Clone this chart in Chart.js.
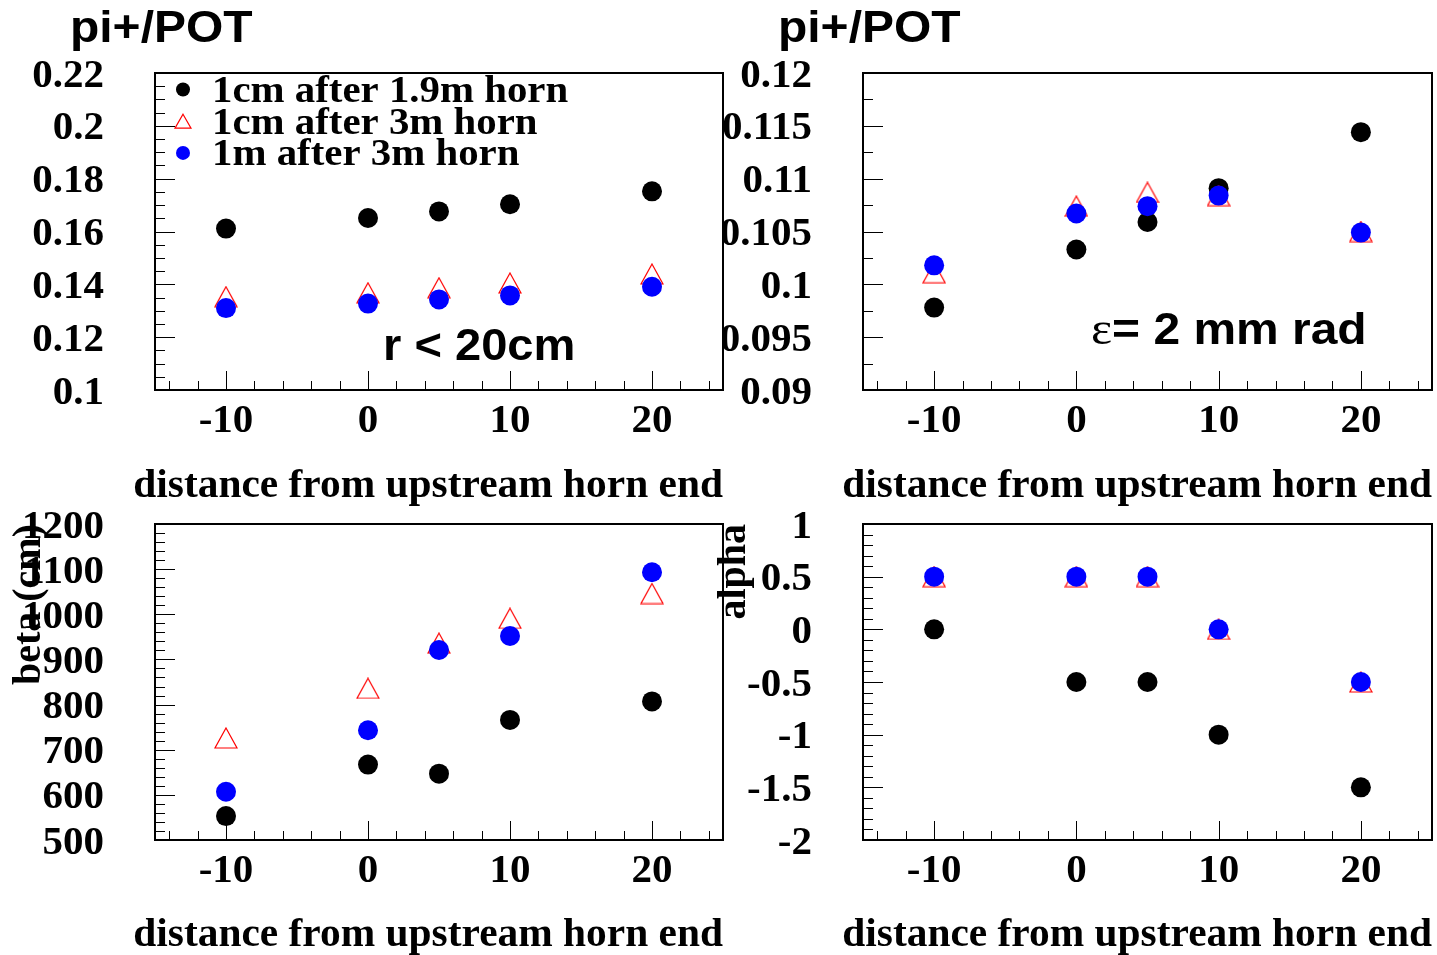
<!DOCTYPE html>
<html lang="en">
<head>
<meta charset="UTF-8" />
<title>pi+/POT, beta and alpha vs distance from upstream horn end</title>
<script src="https://cdn.jsdelivr.net/npm/chart.js"></script>
<style>
    body {
        margin: 0;
        background: #fff;
    }
    #page {
        position: relative;
        width: 1437px;
        height: 955px;
        overflow: hidden;
        background: #fff;
    }
    canvas {
        position: absolute;
    }
</style>
</head>
<body>
<div id="page">
    <canvas id="c1" width="728" height="512" style="left:0px;top:0px"></canvas>
    <canvas id="c2" width="715" height="512" style="left:722px;top:0px"></canvas>
    <canvas id="c3" width="728" height="481" style="left:0px;top:478px"></canvas>
    <canvas id="c4" width="723" height="481" style="left:714px;top:478px"></canvas>
</div>

<script>
    // x positions (distance from upstream horn end)
    const distance = [-10, 0, 5, 10, 20];
    const seriesNames = ['1cm after 1.9m horn', '1cm after 3m horn', '1m after 3m horn'];
    const xTitle = 'distance from upstream horn end';

    // pi+/POT, r < 20cm
    const yieldR20Short = [0.1611, 0.1651, 0.1676, 0.1703, 0.1752];
    const yieldR20Long = [0.1353, 0.1368, 0.1387, 0.1405, 0.1439];
    const yieldR20Long1m = [0.1310, 0.1327, 0.1343, 0.1358, 0.1391];

    // pi+/POT, emittance 2 mm rad
    const yieldEpsShort = [0.0978, 0.1033, 0.1059, 0.1091, 0.1144];
    const yieldEpsLong = [0.1011, 0.1074, 0.1087, 0.1084, 0.1050];
    const yieldEpsLong1m = [0.1018, 0.1067, 0.1074, 0.1084, 0.1049];

    // beta (cm)
    const betaShort = [553, 667, 647, 766, 807];
    const betaLong = [726, 836, 936, 991, 1046];
    const betaLong1m = [607, 743, 921, 952, 1093];

    // alpha
    const alphaShort = [0, -0.5, -0.5, -1, -1.5];
    const alphaLong = [0.5, 0.5, 0.5, 0, -0.5];
    const alphaLong1m = [0.5, 0.5, 0.5, 0, -0.5];

    // tick labels
    const xTickLabels = ['-10', '0', '10', '20'];
    const yTickLabels1 = ['0.1', '0.12', '0.14', '0.16', '0.18', '0.2', '0.22'];
    const yTickLabels2 = ['0.09', '0.095', '0.1', '0.105', '0.11', '0.115', '0.12'];
    const yTickLabels3 = ['500', '600', '700', '800', '900', '1000', '1100', '1200'];
    const yTickLabels4 = ['-2', '-1.5', '-1', '-0.5', '0', '0.5', '1'];

    const serif = '"Liberation Serif", "Times New Roman", serif';
    const sans = '"Liberation Sans", Arial, Helvetica, sans-serif';

    // ROOT style open triangle (centred on its bounding box)
    function triangleMarker(w, h, color) {
        const c = document.createElement('canvas');
        c.width = w + 2;
        c.height = h + 2;
        const g = c.getContext('2d');
        g.strokeStyle = color;
        g.lineWidth = 1.2;
        g.beginPath();
        g.moveTo(c.width / 2, 1);
        g.lineTo(c.width - 1, c.height - 1);
        g.lineTo(1, c.height - 1);
        g.closePath();
        g.stroke();
        return c;
    }
    const redTriangle = triangleMarker(22, 20, '#ff0000');

    // frame and inside ticks like a ROOT pad
    const rootAxes = {
        id: 'rootAxes',
        beforeDatasetsDraw(chart, args, opts) {
            const { ctx, chartArea: a, scales: { x, y } } = chart;
            ctx.save();
            ctx.strokeStyle = '#000';
            ctx.lineWidth = 1;
            ctx.beginPath();
            const xMajor = x.ticks.map(t => t.value);
            for (let k = Math.ceil(x.min / opts.xMinor - 1e-9); k * opts.xMinor <= x.max + 1e-9; k++) {
                const v = k * opts.xMinor;
                const major = xMajor.some(m => Math.abs(m - v) < 1e-9);
                const px = Math.round(x.getPixelForValue(v)) + 0.5;
                ctx.moveTo(px, a.bottom);
                ctx.lineTo(px, a.bottom - (major ? 19 : 9));
            }
            const yMajor = y.ticks.map(t => t.value);
            for (let k = Math.ceil(y.min / opts.yMinor - 1e-6); k * opts.yMinor <= y.max * (1 + 1e-9) + 1e-9; k++) {
                const v = k * opts.yMinor;
                const major = yMajor.some(m => Math.abs(m - v) < opts.yMinor * 1e-3);
                const py = Math.round(y.getPixelForValue(v)) + 0.5;
                ctx.moveTo(a.left, py);
                ctx.lineTo(a.left + (major ? 20 : 10), py);
            }
            ctx.stroke();
            ctx.lineWidth = 2;
            ctx.strokeRect(a.left, a.top, a.right - a.left, a.bottom - a.top);
            ctx.restore();
        }
    };

    // free text (pad titles, labels inside the frame); sx widens the glyphs a bit
    const padTexts = {
        id: 'padTexts',
        afterDraw(chart, args, opts) {
            const ctx = chart.ctx;
            ctx.save();
            ctx.fillStyle = '#000';
            ctx.textBaseline = 'alphabetic';
            ctx.textAlign = 'left';
            (opts.items || []).forEach(item => {
                let x = item.x;
                const sx = item.sx || 1;
                item.parts.forEach(p => {
                    ctx.font = p.font;
                    ctx.save();
                    ctx.translate(x, item.y);
                    ctx.scale(sx, 1);
                    ctx.fillText(p.text, 0, 0);
                    ctx.restore();
                    x += ctx.measureText(p.text).width * sx;
                });
            });
            // x axis title, right aligned to the frame like ROOT
            if (opts.xTitle) {
                const t = opts.xTitle;
                ctx.font = t.font;
                ctx.textAlign = 'right';
                ctx.save();
                ctx.translate(chart.chartArea.right, t.y);
                ctx.scale(t.sx, 1);
                ctx.fillText(t.text, 0, 0);
                ctx.restore();
            }
            ctx.restore();
        }
    };

    // ROOT style legend without a box
    const rootLegend = {
        id: 'rootLegend',
        afterDraw(chart, args, opts) {
            if (!opts.show) return;
            const ctx = chart.ctx;
            ctx.save();
            chart.data.datasets.forEach((ds, i) => {
                const cy = opts.y + i * opts.step;
                if (ds.pointStyle === 'circle') {
                    ctx.fillStyle = ds.backgroundColor;
                    ctx.beginPath();
                    ctx.arc(opts.x, cy, 7, 0, Math.PI * 2);
                    ctx.fill();
                } else {
                    ctx.strokeStyle = '#ff0000';
                    ctx.lineWidth = 1.2;
                    ctx.beginPath();
                    ctx.moveTo(opts.x, cy - 7);
                    ctx.lineTo(opts.x + 8, cy + 7);
                    ctx.lineTo(opts.x - 8, cy + 7);
                    ctx.closePath();
                    ctx.stroke();
                }
                ctx.fillStyle = '#000';
                ctx.font = 'bold 38px ' + serif;
                ctx.textBaseline = 'alphabetic';
                ctx.save();
                ctx.translate(opts.textX, cy + 12.5);
                ctx.scale(1.075, 1);
                ctx.fillText(ds.label, 0, 0);
                ctx.restore();
            });
            ctx.restore();
        }
    };

    function points(ys) {
        return distance.map((d, i) => ({ x: d, y: ys[i] }));
    }

    function makeDatasets(short, long, long1m) {
        return [
            { label: seriesNames[0], data: points(short), pointStyle: 'circle', pointRadius: 10,
              backgroundColor: '#000000', borderColor: '#000000', borderWidth: 0, order: 3 },
            { label: seriesNames[1], data: points(long), pointStyle: redTriangle, pointRadius: 11,
              backgroundColor: '#ff0000', borderColor: '#ff0000', order: 2 },
            { label: seriesNames[2], data: points(long1m), pointStyle: 'circle', pointRadius: 10,
              backgroundColor: '#0000ff', borderColor: '#0000ff', borderWidth: 0, order: 1 }
        ];
    }

    function makePad(id, cfg) {
        const tickFont = { family: serif, weight: 'bold', size: 41, lineHeight: 1 };
        const yTitleFont = { family: serif, weight: 'bold', size: 40, lineHeight: 1 };
        new Chart(document.getElementById(id), {
            type: 'scatter',
            data: { datasets: makeDatasets(cfg.short, cfg.long, cfg.long1m) },
            options: {
                responsive: false,
                animation: false,
                devicePixelRatio: 1,
                layout: { padding: cfg.padding, autoPadding: false },
                plugins: {
                    legend: { display: false },
                    tooltip: { enabled: false },
                    rootAxes: { xMinor: 2, yMinor: cfg.yMinor },
                    padTexts: {
                        items: cfg.texts,
                        xTitle: { text: xTitle, y: cfg.xTitleY, sx: 1.01, font: 'bold 41px ' + serif }
                    },
                    rootLegend: { show: !!cfg.legend, x: 183, y: 89.5, step: 31.7, textX: 212 }
                },
                scales: {
                    x: {
                        type: 'linear',
                        min: -15,
                        max: 25,
                        grid: { display: false, drawTicks: false, tickLength: 0 },
                        border: { display: false },
                        afterBuildTicks: s => { s.ticks = xTickLabels.map(l => ({ value: parseFloat(l) })); },
                        afterFit: s => {
                            s.height = cfg.xHeight;
                            s.paddingLeft = 0;
                            s.paddingRight = 0;
                        },
                        ticks: {
                            autoSkip: false,
                            maxRotation: 0,
                            padding: 10.5,
                            color: '#000',
                            font: tickFont,
                            callback: (v, i) => xTickLabels[i]
                        }
                    },
                    y: {
                        type: 'linear',
                        min: parseFloat(cfg.yLabels[0]),
                        max: parseFloat(cfg.yLabels[cfg.yLabels.length - 1]),
                        grid: { display: false, drawTicks: false, tickLength: 0 },
                        border: { display: false },
                        afterBuildTicks: s => { s.ticks = cfg.yLabels.map(l => ({ value: parseFloat(l) })); },
                        afterFit: s => {
                            s.width = cfg.yWidth;
                            s.paddingTop = 0;
                            s.paddingBottom = 0;
                        },
                        ticks: {
                            autoSkip: false,
                            padding: 51,
                            labelOffset: 3,
                            color: '#000',
                            font: tickFont,
                            callback: (v, i) => cfg.yLabels[i]
                        },
                        title: {
                            display: !!cfg.yTitle,
                            text: cfg.yTitle || '',
                            align: 'end',
                            color: '#000',
                            font: yTitleFont,
                            padding: { top: cfg.yTitlePad || 0, bottom: 0 }
                        }
                    }
                }
            },
            plugins: [rootAxes, padTexts, rootLegend]
        });
    }

    const sansTitle = 'bold 44px ' + sans;

    makePad('c1', {
        short: yieldR20Short, long: yieldR20Long, long1m: yieldR20Long1m,
        yLabels: yTickLabels1, yMinor: 0.005,
        padding: { top: 73, left: 0, right: 5, bottom: 0 },
        yWidth: 155, xHeight: 122, xTitleY: 497,
        legend: true,
        texts: [
            { x: 70, y: 42, sx: 1.09, parts: [{ text: 'pi+/POT', font: sansTitle }] },
            { x: 383, y: 360, sx: 1.07, parts: [{ text: 'r < 20cm', font: sansTitle }] }
        ]
    });

    makePad('c2', {
        short: yieldEpsShort, long: yieldEpsLong, long1m: yieldEpsLong1m,
        yLabels: yTickLabels2, yMinor: 0.0025,
        padding: { top: 73, left: 0, right: 5, bottom: 0 },
        yWidth: 141, xHeight: 122, xTitleY: 497,
        texts: [
            { x: 56, y: 42, sx: 1.09, parts: [{ text: 'pi+/POT', font: sansTitle }] },
            { x: 369, y: 344, sx: 1.09, parts: [{ text: 'ε', font: '46px ' + serif }, { text: '= 2 mm rad', font: sansTitle }] }
        ]
    });

    makePad('c3', {
        short: betaShort, long: betaLong, long1m: betaLong1m,
        yLabels: yTickLabels3, yMinor: 20,
        padding: { top: 46, left: 0, right: 5, bottom: 0 },
        yWidth: 155, xHeight: 119, xTitleY: 468,
        yTitle: 'beta (cm)', yTitlePad: 9.5,
        texts: []
    });

    makePad('c4', {
        short: alphaShort, long: alphaLong, long1m: alphaLong1m,
        yLabels: yTickLabels4, yMinor: 0.1,
        padding: { top: 46, left: 0, right: 5, bottom: 0 },
        yWidth: 149, xHeight: 119, xTitleY: 468,
        yTitle: 'alpha', yTitlePad: 0.5,
        texts: []
    });
</script>
</body>
</html>
